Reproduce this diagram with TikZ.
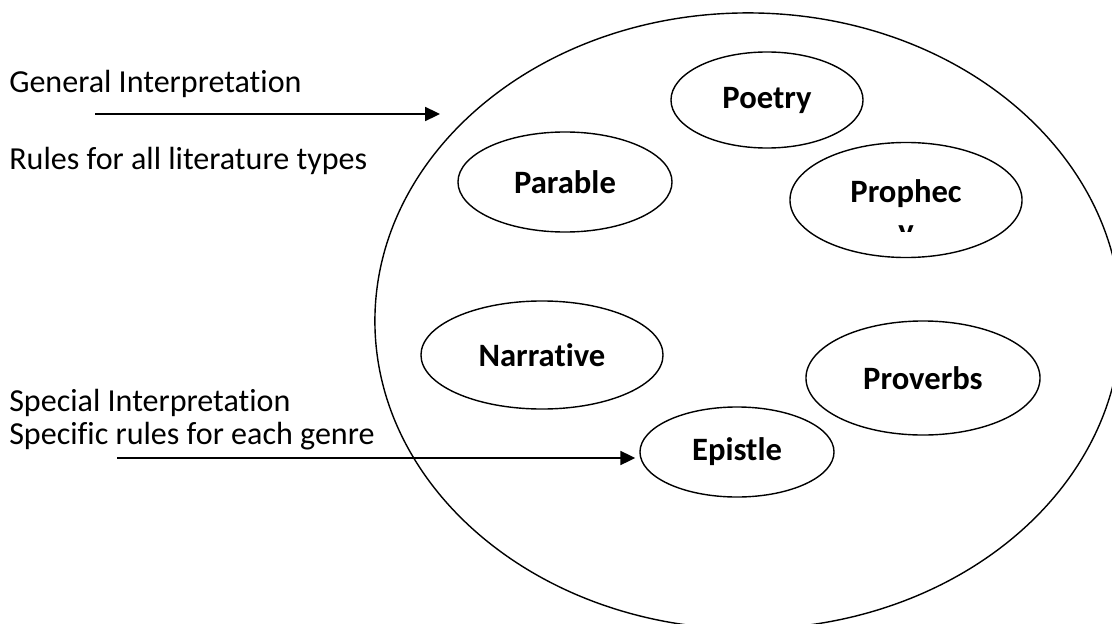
\documentclass[tikz,border=0pt]{standalone}
\usepackage{fontspec}
\setmainfont[Ligatures=NoCommon]{Carlito}
\usepackage{tikz}
\usetikzlibrary{arrows.meta}
\usetikzlibrary{shapes.geometric}

\tikzset{
  genre/.style={draw, ellipse, line width=1pt, inner sep=0pt, font=\fontsize{23.2}{29}\selectfont\bfseries},
  sidetext/.style={anchor=west, inner sep=0pt, font=\fontsize{22.8}{29}\selectfont},
  pointer/.style={line width=1.1pt, -{Triangle[length=3.7mm,width=3.5mm]}}
}

\begin{document}
\begin{tikzpicture}[x=0.025cm,y=-0.025cm]
    \useasboundingbox (0,0) rectangle (1112,624);
    \clip (0,0) rectangle (1112,624);
    \node[draw, ellipse, line width=1pt, minimum width=18.65cm, minimum height=15.4cm] (field) at (748,321) {};
    \node[genre, minimum width=4.8cm, minimum height=2.4cm] (poetry) at (767,100) {Poetry};
    \node[genre, minimum width=5.35cm, minimum height=2.5cm] (parable) at (565,182) {Parable};
    \node[genre, minimum width=5.8cm, minimum height=2.875cm] (prophecy) at (906,200) {};
    \node[genre, minimum width=6.05cm, minimum height=2.7cm] (narrative) at (542,355) {Narrative};
    \node[genre, minimum width=5.85cm, minimum height=2.85cm] (proverbs) at (923,378) {Proverbs};
    \node[genre, minimum width=4.85cm, minimum height=2.25cm] (epistle) at (737,452) {Epistle};
    \begin{scope}
    \clip (790,140) rectangle (1022,231);
    \node[genre, draw=none, anchor=base] (prophecA) at (906,202) {Prophec};
    \node[genre, draw=none, anchor=base] (prophecB) at (906,241) {y};
    \end{scope}
    \node[sidetext] (general) at (9,84) {General Interpretation};
    \node[sidetext] (allrules) at (9,161) {Rules for all literature types};
    \node[sidetext] (special) at (9,403) {Special Interpretation};
    \node[sidetext] (genrerules) at (9,436) {Specific rules for each genre};
    \coordinate (genstart) at (95,114);
    \coordinate (genend) at (440,114);
    \coordinate (specstart) at (117,458);
    \draw[pointer] (genstart) -- (genend);
    \draw[pointer, shorten >=1mm] (specstart) -- (specstart -| epistle.west);
\end{tikzpicture}
\end{document}
